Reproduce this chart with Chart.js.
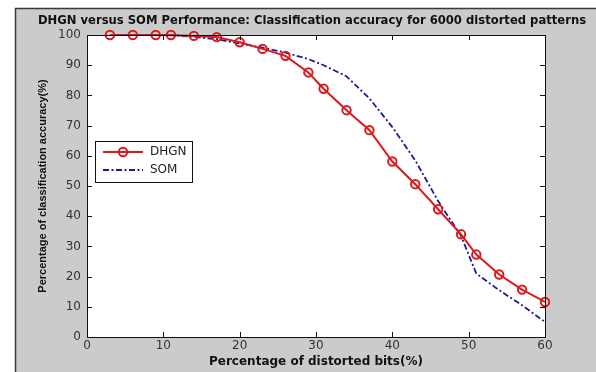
<!DOCTYPE html>
<html>
<head>
<meta charset="utf-8">
<script src="https://cdn.jsdelivr.net/npm/chart.js@4.4.1/dist/chart.umd.min.js"></script>
<style>
  body { margin: 0; background: #fff; }
  #perf-graph { display: block; }
</style>
</head>
<body>
<canvas id="perf-graph" width="596" height="372"></canvas>
<script>
'use strict';

// percentage of distorted bits (x)
const distortion = [3, 6, 9, 11, 14, 17, 20, 23, 26, 29, 31, 34, 37, 40, 43, 46, 49, 51, 54, 57, 60];
// classification accuracy (%) per series
const dhgnAccuracy = [100, 100, 100, 100, 99.7, 99.3, 97.6, 95.4, 93.1, 87.6, 82.2, 75.1, 68.5, 58.1, 50.6, 42.3, 34.0, 27.3, 20.7, 15.7, 11.6];
const somAccuracy = [null, null, 100, 99.9, 99.4, 98.6, 97.2, 95.8, 94.2, 92.0, 90.0, 86.3, 79.0, 69.5, 58.5, 45.0, 33.5, 21.0, 15.5, 10.5, 5.0];
const seriesNames = ['DHGN', 'SOM'];
const xTicks = [0, 10, 20, 30, 40, 50, 60];
const yTicks = [0, 10, 20, 30, 40, 50, 60, 70, 80, 90, 100];

const chartTitle = 'DHGN versus SOM Performance: Classification accuracy for 6000 distorted patterns';

const toPoints = (ys) => distortion.map((x, i) => ({x: x, y: ys[i]}));

const figure = {
  id: 'figure',
  beforeDraw(chart) {
    const ctx = chart.ctx;
    const a = chart.chartArea;
    ctx.save();
    ctx.fillStyle = '#fff';
    ctx.fillRect(0, 0, chart.width, chart.height);
    ctx.fillStyle = '#cbcbcb';
    ctx.fillRect(15, 8, chart.width - 15, chart.height - 8);
    ctx.strokeStyle = '#3a3a3a';
    ctx.lineWidth = 1.5;
    ctx.beginPath();
    ctx.moveTo(15.5, chart.height);
    ctx.lineTo(15.5, 8.5);
    ctx.lineTo(chart.width, 8.5);
    ctx.stroke();
    ctx.fillStyle = '#fff';
    ctx.fillRect(a.left, a.top, a.right - a.left, a.bottom - a.top);
    ctx.restore();
  },
  afterDraw(chart) {
    const ctx = chart.ctx;
    const a = chart.chartArea;
    const xs = chart.scales.x;
    const ys = chart.scales.y;
    ctx.save();
    // axes box + inward ticks
    ctx.strokeStyle = '#111';
    ctx.lineWidth = 1;
    ctx.strokeRect(Math.round(a.left) + 0.5, Math.round(a.top) + 0.5,
      Math.round(a.right - a.left), Math.round(a.bottom - a.top));
    ctx.beginPath();
    xTicks.forEach((t) => {
      const px = Math.round(xs.getPixelForValue(t)) + 0.5;
      ctx.moveTo(px, a.bottom); ctx.lineTo(px, a.bottom - 5);
      ctx.moveTo(px, a.top); ctx.lineTo(px, a.top + 5);
    });
    yTicks.forEach((t) => {
      const py = Math.round(ys.getPixelForValue(t)) + 0.5;
      ctx.moveTo(a.left, py); ctx.lineTo(a.left + 5, py);
      ctx.moveTo(a.right, py); ctx.lineTo(a.right - 5, py);
    });
    ctx.stroke();

    // title
    ctx.fillStyle = '#111';
    ctx.font = 'bold 11.6px "DejaVu Sans"';
    ctx.textAlign = 'center';
    ctx.textBaseline = 'middle';
    ctx.fillText(chartTitle, 312, 21);

    // legend
    const lx = 95, ly = 141, lw = 97, lh = 41;
    ctx.fillStyle = '#fff';
    ctx.fillRect(lx, ly, lw, lh);
    ctx.strokeStyle = '#111';
    ctx.strokeRect(lx + 0.5, ly + 0.5, lw, lh);
    chart.data.datasets.forEach((ds, i) => {
      const y = ly + 11 + i * 18;
      ctx.strokeStyle = ds.borderColor;
      ctx.lineWidth = ds.borderWidth;
      ctx.setLineDash(ds.borderDash || []);
      ctx.beginPath();
      ctx.moveTo(lx + 8, y);
      ctx.lineTo(lx + 48, y);
      ctx.stroke();
      ctx.setLineDash([]);
      if (ds.pointRadius > 0) {
        ctx.beginPath();
        ctx.arc(lx + 28, y, ds.pointRadius, 0, Math.PI * 2);
        ctx.stroke();
      }
      ctx.fillStyle = '#222';
      ctx.font = '12px "DejaVu Sans"';
      ctx.textAlign = 'left';
      ctx.fillText(ds.label, lx + 55, y);
    });
    ctx.restore();
  }
};

const ctx = document.getElementById('perf-graph').getContext('2d');
new Chart(ctx, {
  type: 'line',
  data: {
    datasets: [{
      label: seriesNames[0],
      data: toPoints(dhgnAccuracy),
      borderColor: '#dc1a1e',
      borderWidth: 2,
      pointRadius: 4.2,
      pointBorderWidth: 2,
      pointBorderColor: '#dc1a1e',
      pointBackgroundColor: 'rgba(255,255,255,0)',
      tension: 0,
      clip: false,
    }, {
      label: seriesNames[1],
      data: toPoints(somAccuracy),
      borderColor: '#1c1c90',
      borderWidth: 1.8,
      borderDash: [6, 2.5, 2, 2.5],
      pointRadius: 0,
      tension: 0,
      clip: false,
    }],
  },
  options: {
    responsive: false,
    devicePixelRatio: 1,
    animation: false,
    layout: {
      padding: {top: 35, left: 15, right: 51, bottom: 0}
    },
    plugins: {
      legend: {display: false},
      title: {display: false},
      tooltip: {enabled: false},
    },
    scales: {
      x: {
        type: 'linear',
        min: 0,
        max: 60,
        afterFit: (scale) => { scale.height = 35; },
        afterBuildTicks: (scale) => { scale.ticks = xTicks.map((v) => ({value: v})); },
        grid: {display: false, drawTicks: false},
        border: {display: false},
        ticks: {
          color: '#333',
          padding: 2,
          maxRotation: 0,
          font: {family: 'DejaVu Sans', size: 12},
        },
        title: {
          display: true,
          text: 'Percentage of distorted bits(%)',
          color: '#111',
          padding: {top: 0, bottom: 3},
          font: {family: 'DejaVu Sans', size: 12, weight: 'bold'},
        },
      },
      y: {
        type: 'linear',
        min: 0,
        max: 100,
        afterFit: (scale) => { scale.width = 72; },
        afterBuildTicks: (scale) => { scale.ticks = yTicks.map((v) => ({value: v})); },
        grid: {display: false, drawTicks: false},
        border: {display: false},
        ticks: {
          color: '#333',
          padding: 6,
          font: {family: 'DejaVu Sans', size: 12},
        },
        title: {
          display: true,
          text: 'Percentage of classification accuracy(%)',
          color: '#111',
          padding: {top: 21, bottom: 0},
          font: {family: 'Liberation Sans', size: 11, weight: 'bold'},
        },
      },
    },
  },
  plugins: [figure],
});
</script>
</body>
</html>
